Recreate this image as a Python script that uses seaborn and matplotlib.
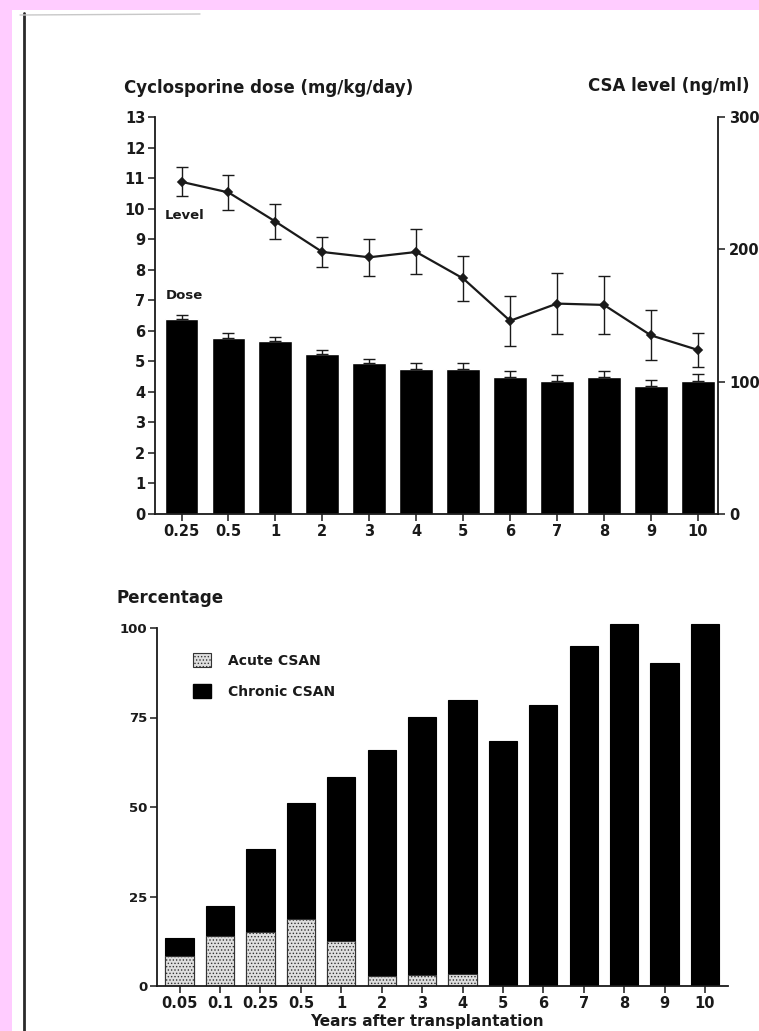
import numpy as np
import matplotlib
matplotlib.use("Agg")
import matplotlib.pyplot as plt
from matplotlib.patches import Rectangle, Patch
from matplotlib.lines import Line2D
import seaborn as sns

# ---------------- data ----------------
top_years = ["0.25", "0.5", "1", "2", "3", "4", "5", "6", "7", "8", "9", "10"]
dose = [6.37, 5.75, 5.67, 5.24, 4.94, 4.76, 4.76, 4.48, 4.36, 4.48, 4.19, 4.34]
dose_err = [0.14, 0.17, 0.14, 0.13, 0.12, 0.20, 0.20, 0.19, 0.20, 0.19, 0.19, 0.25]
level = [251, 243, 221, 198, 194, 198, 178, 146, 159, 158, 135, 124]
level_err = [11, 13, 13, 11, 14, 17, 17, 19, 23, 22, 19, 13]
dose_ticks = list(range(0, 14))
level_ticks = [0, 100, 200, 300]

bot_years = ["0.05", "0.1", "0.25", "0.5", "1", "2", "3", "4", "5", "6", "7", "8", "9", "10"]
acute = [8.4, 14.1, 15.0, 18.6, 12.6, 2.8, 3.0, 3.3, 0, 0, 0, 0, 0, 0]
chronic = [5.0, 8.3, 23.3, 32.6, 45.8, 63.1, 72.2, 76.7, 68.5, 78.6, 95.0, 101.0, 90.2, 101.0]
pct_ticks = [0, 25, 50, 75, 100]

# ---------------- style ----------------
sns.set_theme(style="ticks")
plt.rcParams["font.family"] = ["DejaVu Sans"]
plt.rcParams["font.weight"] = "bold"
plt.rcParams["hatch.linewidth"] = 0.6
INK = "#1a1a1a"
FS = 10.5

W, H = 759, 1031
fig = plt.figure(figsize=(W / 100, H / 100), dpi=100, facecolor="white")

def fx(px):
    return px / W

def fy(py):
    return 1 - py / H

# ---------------- top panel ----------------
ax = fig.add_axes([fx(155), fy(514), (718 - 155) / W, (514 - 117) / H])
sns.barplot(x=top_years, y=dose, order=top_years, color="black", saturation=1,
            width=0.72, ax=ax, errorbar=None)
xs = ax.get_xticks()
ax.errorbar(xs, dose, yerr=[np.zeros(len(dose)), dose_err], fmt="none",
            ecolor=INK, elinewidth=1.0, capsize=4, capthick=1.0, zorder=3)
ax.set_ylim(0, 13)
ax.set_yticks(dose_ticks)
ax.set_xlim(-0.565, 11.43)
ax.set_xlabel("")
ax.set_ylabel("")
for s in ["top", "right"]:
    ax.spines[s].set_visible(False)
for s in ["left", "bottom"]:
    ax.spines[s].set_color(INK)
    ax.spines[s].set_linewidth(1.3)
ax.tick_params(axis="both", direction="out", length=5, width=1.1, color=INK,
               labelsize=FS, labelcolor=INK, pad=2)
ax.text(-0.36, 9.76, "Level", fontsize=9.5, fontweight="bold", color=INK, va="center")
ax.text(-0.33, 7.17, "Dose", fontsize=9.5, fontweight="bold", color=INK, va="center")

ax2 = ax.twinx()
sns.pointplot(x=top_years, y=level, order=top_years, color=INK, markers="D",
              markersize=4, linewidth=1.6, errorbar=None, ax=ax2)
ax2.errorbar(xs, level, yerr=level_err, fmt="none", ecolor=INK,
             elinewidth=1.0, capsize=4, capthick=1.0, zorder=3)
ax2.set_ylim(0, 300)
ax2.set_yticks(level_ticks)
ax2.set_xlim(-0.565, 11.43)
ax2.set_xlabel("")
ax2.set_ylabel("")
for s in ["top", "left", "bottom"]:
    ax2.spines[s].set_visible(False)
ax2.spines["right"].set_color(INK)
ax2.spines["right"].set_linewidth(1.3)
ax2.tick_params(axis="y", direction="out", length=5, width=1.1, color=INK,
                labelsize=FS, labelcolor=INK, pad=3)

fig.text(fx(124), fy(88), "Cyclosporine dose (mg/kg/day)", fontsize=12,
         fontweight="bold", color=INK, va="center", ha="left")
fig.text(fx(588), fy(86), "CSA level (ng/ml)", fontsize=12,
         fontweight="bold", color=INK, va="center", ha="left")

# ---------------- bottom panel ----------------
ymax_b = 104
axb = fig.add_axes([fx(157), fy(986), (728 - 157) / W, 358 * ymax_b / 100 / H])
stack_top = [a + c for a, c in zip(acute, chronic)]
sns.barplot(x=bot_years, y=stack_top, order=bot_years, color="black", saturation=1,
            width=0.70, ax=axb, errorbar=None, edgecolor="black", linewidth=0.8)
sns.barplot(x=bot_years, y=acute, order=bot_years, color="#dedede", saturation=1,
            width=0.70, ax=axb, errorbar=None, edgecolor="#333333", linewidth=0.8,
            hatch=".....")
axb.set_ylim(0, ymax_b)
axb.set_yticks(pct_ticks)
axb.set_xlim(-0.56, 13.57)
axb.set_xlabel("")
axb.set_ylabel("")
for s in ["top", "right"]:
    axb.spines[s].set_visible(False)
for s in ["left", "bottom"]:
    axb.spines[s].set_color(INK)
    axb.spines[s].set_linewidth(1.3)
axb.spines["left"].set_bounds(0, 100)
axb.tick_params(axis="both", direction="out", length=5, width=1.1, color=INK,
                labelsize=FS, labelcolor=INK, pad=2)
axb.tick_params(axis="y", labelsize=9.5)

handles = [Patch(facecolor="#dedede", edgecolor="#333333", hatch=".....", linewidth=0.8),
           Patch(facecolor="black", edgecolor="black")]
axb.legend(handles, ["Acute CSAN", "Chronic CSAN"], loc="upper left",
           bbox_to_anchor=(0.063, 0.894), frameon=False, borderaxespad=0, borderpad=0,
           handlelength=1.3, handleheight=1.15, handletextpad=1.2, labelspacing=1.2,
           prop={"size": 10, "weight": "bold"}, labelcolor=INK)

fig.text(fx(117), fy(598), "Percentage", fontsize=12, fontweight="bold",
         color=INK, va="center", ha="left")
fig.text(fx(427), fy(1029), "Years after transplantation", fontsize=11,
         fontweight="bold", color=INK, va="bottom", ha="center")

# ---------------- scan frame ----------------
fig.add_artist(Rectangle((0, 0), fx(12), 1, transform=fig.transFigure,
                         facecolor="#ffccff", edgecolor="none", zorder=5))
fig.add_artist(Rectangle((0, fy(10)), 1, 10 / H, transform=fig.transFigure,
                         facecolor="#ffccff", edgecolor="none", zorder=5))
fig.add_artist(Line2D([fx(23.5), fx(23.5)], [0, fy(13)], transform=fig.transFigure,
                      color="#2a2a2a", lw=2.0))
fig.add_artist(Line2D([fx(20), fx(200)], [fy(15), fy(14)], transform=fig.transFigure,
                      color="#c8c8c8", lw=1.0))

fig.savefig("out.png", dpi=100, facecolor="white")
